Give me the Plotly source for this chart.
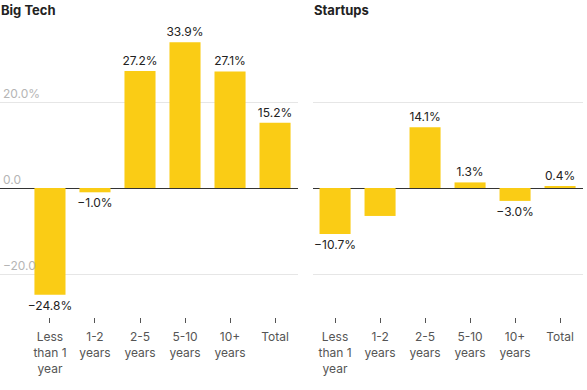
import plotly.graph_objects as go

categories = ["Less<br>than 1<br>year", "1-2<br>years", "2-5<br>years", "5-10<br>years", "10+<br>years", "Total"]
big_tech = [-24.8, -1.0, 27.2, 33.9, 27.1, 15.2]
startups = [-10.7, -6.5, 14.1, 1.3, -3.0, 0.4]
big_tech_labels = ["−24.8%", "−1.0%", "27.2%", "33.9%", "27.1%", "15.2%"]
startups_labels = ["−10.7%", "", "14.1%", "1.3%", "−3.0%", "0.4%"]
y_tickvals = [-20, 0, 20]
y_ticktext = ["−20.0", "0.0", "20.0%"]

W, H = 587, 390
ml, mr = 0, 4
pw = W - ml - mr

color = "#FACC15"
font = "Inter, Noto Sans, sans-serif"

fig = go.Figure()
fig.add_trace(go.Bar(x=list(range(6)), y=big_tech, text=big_tech_labels, textposition="outside",
                     marker=dict(color=color, line=dict(width=0)), width=0.69, cliponaxis=False,
                     constraintext="none",
                     textfont=dict(size=12, color="#222", family=font), xaxis="x", yaxis="y",
                     showlegend=False, hoverinfo="skip"))
fig.add_trace(go.Bar(x=list(range(6)), y=startups, text=startups_labels, textposition="outside",
                     marker=dict(color=color, line=dict(width=0)), width=0.69, cliponaxis=False,
                     constraintext="none",
                     textfont=dict(size=12, color="#222", family=font), xaxis="x2", yaxis="y2",
                     showlegend=False, hoverinfo="skip"))

xcommon = dict(tickmode="array", tickvals=list(range(6)), ticktext=categories, ticks="outside",
               ticklen=5, tickcolor="#555", showgrid=False, zeroline=False, showline=False,
               ticklabelstandoff=4,
               tickfont=dict(size=12, color="#555", family=font))
ycommon = dict(range=[-30, 40], tickmode="array", tickvals=y_tickvals, showgrid=True,
               gridcolor="#e6e6e6", gridwidth=1, zeroline=True, zerolinecolor="#333",
               zerolinewidth=1, showline=False, ticks="")

d1 = [0, (298 - ml) / pw]
d2 = [(313 - ml) / pw, 1]

fig.update_layout(
    width=W, height=H,
    margin=dict(l=ml, r=mr, t=16, b=73),
    plot_bgcolor="white", paper_bgcolor="white",
    font=dict(family=font),
    xaxis=dict(domain=d1, range=[-1.11, 5.51], **xcommon),
    xaxis2=dict(domain=d2, range=[-0.49, 5.51], anchor="y2", **xcommon),
    yaxis=dict(ticktext=y_ticktext, ticklabelposition="inside top", showticklabels=True,
               tickfont=dict(size=12, color="#b5b5b5", family=font), anchor="x", **ycommon),
    yaxis2=dict(showticklabels=False, anchor="x2", **ycommon),
    annotations=[
        dict(text="<b>Big Tech</b>", x=0, y=1, xref="paper", yref="paper", xanchor="left",
             yanchor="bottom", yshift=-4, showarrow=False, font=dict(size=13, color="#222", family=font), xshift=-1),
        dict(text="<b>Startups</b>", x=d2[0], y=1, xref="paper", yref="paper", xanchor="left",
             yanchor="bottom", yshift=-4, showarrow=False, font=dict(size=13, color="#222", family=font), xshift=-1),
    ],
    bargap=0.3,
)

fig.write_html("out.html", config={"displayModeBar": False},
               post_script="document.body.style.margin='0';")
